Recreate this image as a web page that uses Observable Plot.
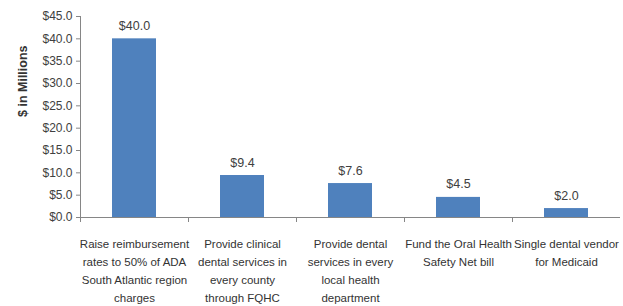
<!DOCTYPE html>
<html><head><meta charset="utf-8">
<script src="https://cdn.jsdelivr.net/npm/d3@7"></script>
<script src="https://cdn.jsdelivr.net/npm/@observablehq/plot@0.6"></script>
<style>
body{margin:0;background:#fff;}
svg{font-family:"Liberation Sans",Arial,sans-serif;}
</style></head>
<body><div id="chart"></div>
<script>
const categories = [
  "Raise reimbursement\nrates to 50% of ADA\nSouth Atlantic region\ncharges",
  "Provide clinical\ndental services in\nevery county\nthrough FQHC",
  "Provide dental\nservices in every\nlocal health\ndepartment",
  "Fund the Oral Health\nSafety Net bill",
  "Single dental vendor\nfor Medicaid"
];
const values = [40.0, 9.4, 7.6, 4.5, 2.0];
const yTicks = [0,5,10,15,20,25,30,35,40,45];
const yLabel = "$ in Millions";

const data = categories.map((c,i)=>({cat:c, value:values[i]}));
const W = 623, H = 306, mL = 80, mR = 3;
const step = (W - mL - mR) / categories.length;

const chart = Plot.plot({
  width: W, height: H,
  marginLeft: mL, marginRight: mR, marginTop: 16, marginBottom: 89,
  style: {fontSize: "12px", color: "#404040"},
  x: {domain: categories, paddingInner: 0.59, paddingOuter: 0.295, label: null},
  y: {domain: [0,45], label: null},
  marks: [
    Plot.barY(data, {x: "cat", y: "value", fill: "#4F81BD"}),
    Plot.text(data, {x: "cat", y: "value", text: d => "$" + d.value.toFixed(1), dy: -13, fontSize: 12.5, fill: "#404040"}),
    Plot.ruleY([0], {stroke: "#868686"}),
    Plot.ruleX([0], {x: () => categories[0], dx: -step/2, stroke: "#868686"}),
    Plot.axisY({ticks: yTicks, tickFormat: d => "$" + d.toFixed(1), tickSize: 4, stroke: "#868686", fontSize: 12, tickPadding: 4, label: null}),
    Plot.axisX({ticks: categories, tickSize: 5, text: null, dx: -step/2, stroke: "#868686"}),
    Plot.axisX({ticks: categories, tickSize: 0, tickPadding: 18, fontSize: 11.5, lineHeight: 1.55, label: null, fill: "#333"}),
    Plot.text([yLabel], {frameAnchor: "left", text: d => d, rotate: -90, dx: -58, fontWeight: "bold", fontSize: 12.5, fill: "#333"})
  ]
});
document.getElementById("chart").appendChild(chart);
</script></body></html>
